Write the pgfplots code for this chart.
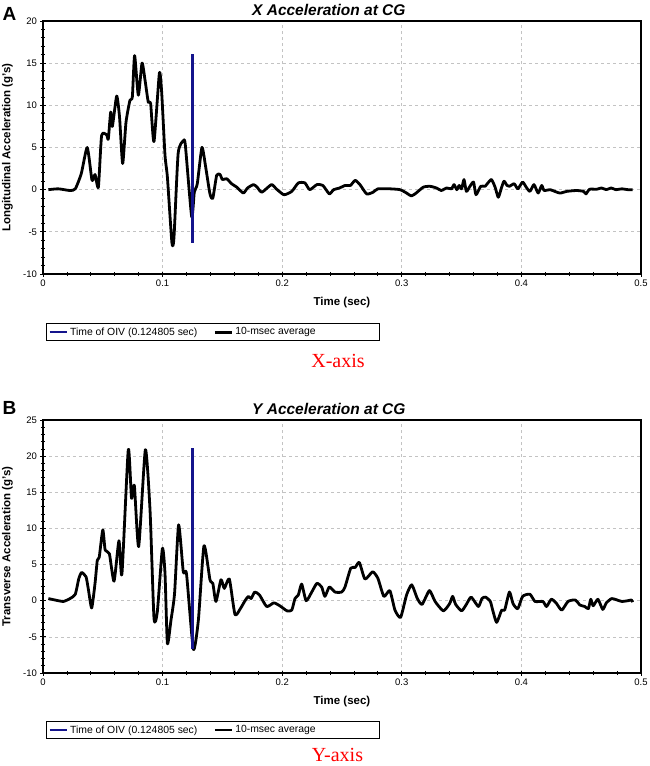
\documentclass[border=0pt]{standalone}
\usepackage{pgfplots}
\pgfplotsset{compat=1.18}
\usepackage{pgfplotstable}
\usepackage{fontspec}
\setmainfont{Liberation Sans}
\newfontfamily\seriffont{Liberation Serif}
\definecolor{oivblue}{RGB}{20,20,140}
\definecolor{gridgray}{RGB}{195,195,195}

\pgfplotstableread{
t y
0.0045 0
0.0128 0.1
0.0226 -0.1
0.027 0.1
0.032 1.9
0.037 5.0
0.041 1.1
0.0435 1.8
0.0463 0.3
0.049 6.4
0.0532 6.5
0.0546 6.0
0.0566 9.2
0.058 7.5
0.0616 11.1
0.064 8.6
0.0666 3.1
0.0694 8.0
0.0727 10.6
0.0747 11.0
0.0766 15.9
0.0797 11.2
0.0828 15.0
0.0853 13.0
0.088 10.4
0.090 10.2
0.0928 5.7
0.0973 13.8
0.0992 11.6
0.102 4.1
0.104 1.5
0.1078 -6.3
0.1095 -5.7
0.113 4.3
0.1173 5.8
0.119 5.3
0.1243 -3.2
0.1265 -0.3
0.129 0.7
0.1329 5.0
0.136 2.7
0.1396 -0.5
0.142 -1.0
0.1452 1.7
0.148 1.8
0.150 1.2
0.1536 1.3
0.1577 0.7
0.162 0.3
0.1675 -0.4
0.171 0.2
0.176 0.6
0.179 0.3
0.183 -0.3
0.191 0.6
0.195 0.1
0.2015 -0.6
0.208 -0.2
0.2135 0.8
0.219 0.8
0.223 0
0.229 0.6
0.234 0.5
0.2394 -0.5
0.243 0
0.248 0.2
0.2525 0.5
0.257 0.5
0.261 1.1
0.265 0.6
0.2706 -0.5
0.276 -0.3
0.280 0.1
0.290 0.1
0.2985 0
0.304 -0.4
0.308 -0.75
0.312 -0.4
0.318 0.3
0.3236 0.4
0.329 0.2
0.333 -0.1
0.3375 0.2
0.3416 0.1
0.3437 0.6
0.346 0
0.348 0.5
0.350 0.1
0.352 1.2
0.354 -0.2
0.357 0.4
0.360 0.9
0.362 -0.6
0.366 0.4
0.3696 0.4
0.372 0.8
0.375 1.2
0.378 0.3
0.3807 -0.9
0.3835 0.3
0.3855 1.0
0.388 0.5
0.390 0.4
0.394 0.7
0.397 0.1
0.401 0.9
0.404 0.3
0.4071 -0.2
0.4105 0.6
0.414 -0.4
0.417 0.5
0.419 -0.1
0.424 0
0.432 -0.4
0.438 -0.2
0.446 -0.1
0.452 -0.2
0.454 -0.5
0.457 0.05
0.463 0.05
0.467 0.2
0.471 0
0.475 0.2
0.479 0
0.484 0.1
0.489 0
0.493 0
}\xacc

\pgfplotstableread{
t y
0.0045 0.3
0.010 0.1
0.017 -0.1
0.0226 0.3
0.027 0.9
0.030 3.1
0.0323 3.9
0.036 3.3
0.038 1.5
0.0407 -1.0
0.0435 2.4
0.0454 5.6
0.047 6.0
0.050 9.8
0.052 7.0
0.0555 6.5
0.0594 2.7
0.0635 8.3
0.066 3.7
0.0713 20.9
0.074 14.2
0.0764 15.9
0.080 7.5
0.0856 20.9
0.0895 12.5
0.0928 -2.4
0.0956 -1.5
0.0998 7.2
0.102 3.8
0.104 -5.9
0.107 -2.7
0.110 1.0
0.1134 10.5
0.1173 4.0
0.120 3.7
0.1257 -6.7
0.1299 -2.7
0.1346 7.6
0.1396 2.9
0.142 2.4
0.1446 -0.1
0.1488 2.9
0.1516 1.7
0.1558 3.0
0.1605 -1.9
0.165 -1.1
0.1689 0
0.1717 0.6
0.174 0.3
0.177 1.2
0.181 0.8
0.187 -0.8
0.193 -0.3
0.198 -0.7
0.204 -1.4
0.208 -1.3
0.2107 0.3
0.2135 0.8
0.2163 2.3
0.220 0
0.2247 1.2
0.229 2.4
0.233 1.9
0.2357 0.6
0.2394 1.9
0.2442 1.2
0.2497 1.2
0.2525 1.9
0.2573 4.5
0.261 4.6
0.2645 5.3
0.2692 3.0
0.2756 4.0
0.280 3.1
0.285 0.6
0.290 1.4
0.2943 -1.3
0.299 -2.3
0.304 0.8
0.3083 2.2
0.313 0.3
0.317 -0.5
0.3231 1.4
0.3278 -0.1
0.3347 -1.4
0.340 -0.4
0.3425 0.6
0.345 -0.5
0.350 -1.4
0.354 -0.5
0.358 0.5
0.364 -0.8
0.367 0.3
0.370 0.5
0.374 -0.1
0.376 -1.3
0.3793 -3.0
0.3835 -1.3
0.386 -1.3
0.390 1.2
0.393 -0.4
0.397 -1.1
0.401 0.6
0.4071 0.9
0.4114 -0.1
0.418 -0.1
0.421 -0.8
0.425 0.2
0.429 -0.3
0.4337 -1.3
0.439 -0.1
0.445 0.1
0.449 -0.6
0.453 -0.8
0.456 -1.1
0.458 0.2
0.460 -0.7
0.464 0.2
0.468 -1.2
0.471 -0.3
0.4755 0.3
0.480 0.1
0.484 -0.1
0.489 0
0.492 0.1
0.493 -0.2
}\yacc

\pgfplotstableread{
t y
0.124805 -6.3
0.124805 16.1
}\xoiv

\pgfplotstableread{
t y
0.124805 -6.7
0.124805 21.1
}\yoiv

\pgfplotsset{accstyle/.style={
  scale only axis, width=598pt, height=253pt,
  xmin=0, xmax=0.5,
  xtick={0,0.1,0.2,0.3,0.4,0.5},
  xticklabels={0,0.1,0.2,0.3,0.4,0.5},
  minor x tick num=4, minor y tick num=4,
  tick pos=left, tick align=center,
  xmajorgrids, ymajorgrids,
  major grid style={dashed, gridgray, line width=0.7pt},
  ticklabel style={font=\fontsize{9.5}{11}\selectfont},
  /pgf/number format/assume math mode=true,
  label style={font=\bfseries\fontsize{11.5}{13}\selectfont},
  every axis title shift=0pt,
  title style={font=\bfseries\itshape\fontsize{15.5}{18}\selectfont, at={(axis description cs:0.478,1.0435)}, anchor=center},
  xlabel={Time (sec)},
  xlabel style={at={(axis description cs:0.5,-0.1146)}, anchor=center},
  ylabel style={at={(axis description cs:-0.0594,0.5)}, anchor=center},
  legend columns=2,
  legend cell align=left,
  legend style={anchor=north west, draw=black, line width=1pt,
    font=\fontsize{10.4}{12}\selectfont, inner sep=2pt,
    /tikz/every even column/.append style={column sep=14pt}},
  axis line style={line width=1.2pt},
  every tick/.style={black, line width=0.8pt},
  major tick length=5pt, minor tick length=4pt,
}}

\begin{document}
\begin{tikzpicture}
\useasboundingbox (0,0) rectangle (650pt,-766pt);

\begin{axis}[accstyle, at={(43pt,-274pt)}, anchor=south west,
  ymin=-10, ymax=20, ytick={-10,-5,0,5,10,15,20},
  title={X Acceleration at CG},
  ylabel={Longitudinal Acceleration (g's)},
  legend style={at={(axis description cs:0.005,-0.194)}}]
\addplot[oivblue, line width=2.5pt] table[x=t,y=y] {\xoiv};
\addlegendentry{Time of OIV (0.124805 sec)}
\addplot[black, line width=2.8pt, smooth, tension=0.35, line join=round] table[x=t,y=y] {\xacc};
\addlegendentry{\makebox[140pt][l]{10-msec average}}
\addplot[oivblue, line width=2.5pt, forget plot] table[x=t,y=y] {\xoiv};
\end{axis}

\begin{axis}[accstyle, at={(43pt,-673pt)}, anchor=south west,
  ymin=-10, ymax=25, ytick={-10,-5,0,5,10,15,20,25},
  title={Y Acceleration at CG},
  ylabel={Transverse Acceleration (g's)},
  legend style={at={(axis description cs:0.005,-0.19)}}]
\addplot[oivblue, line width=2.5pt] table[x=t,y=y] {\yoiv};
\addlegendentry{Time of OIV (0.124805 sec)}
\addplot[black, line width=2.8pt, smooth, tension=0.35, line join=round] table[x=t,y=y] {\yacc};
\addlegendentry{\makebox[140pt][l]{10-msec average}}
\addplot[oivblue, line width=2.5pt, forget plot] table[x=t,y=y] {\yoiv};
\end{axis}

\node[font=\bfseries\fontsize{19}{22}\selectfont] at (9.5pt,-13.5pt) {A};
\node[font=\bfseries\fontsize{19}{22}\selectfont] at (9.5pt,-407.5pt) {B};
\node[font=\seriffont\fontsize{20}{24}\selectfont, text=red] at (338pt,-361pt) {X-axis};
\node[font=\seriffont\fontsize{20}{24}\selectfont, text=red] at (337.5pt,-755pt) {Y-axis};
\end{tikzpicture}
\end{document}
